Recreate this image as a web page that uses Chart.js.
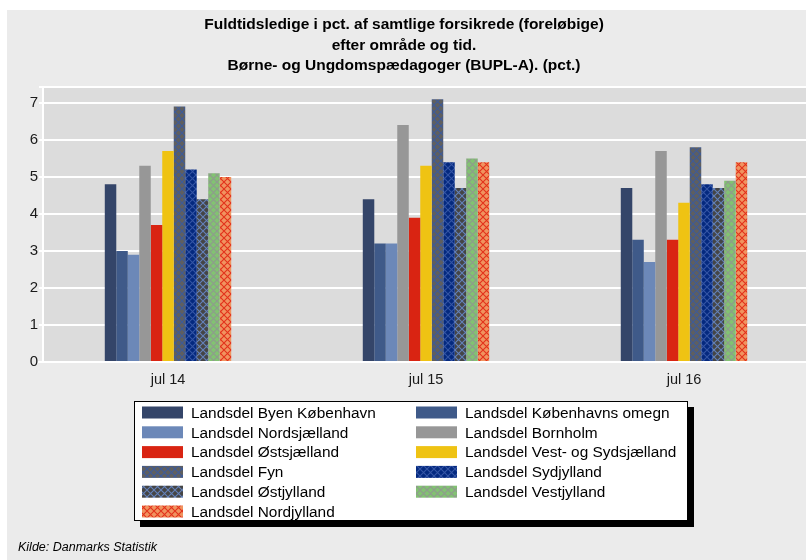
<!DOCTYPE html>
<html>
<head>
<meta charset="utf-8">
<script src="https://cdn.jsdelivr.net/npm/chart.js@4/dist/chart.umd.min.js"></script>
<style>
html,body{margin:0;padding:0;background:#fff;overflow:hidden;width:806px;height:560px;}
#wrap{width:830px;height:560px;}
</style>
</head>
<body>
<div id="wrap"><canvas id="c" width="830" height="560"></canvas></div>
<script>
const categories = ['jul 14', 'jul 15', 'jul 16'];
const titleLines = [
  'Fuldtidsledige i pct. af samtlige forsikrede (foreløbige)',
  'efter område og tid.',
  'Børne- og Ungdomspædagoger (BUPL-A). (pct.)'
];
const sourceText = 'Kilde: Danmarks Statistik';
const seriesNames = [
  'Landsdel Byen København', 'Landsdel Københavns omegn',
  'Landsdel Nordsjælland', 'Landsdel Bornholm',
  'Landsdel Østsjælland', 'Landsdel Vest- og Sydsjælland',
  'Landsdel Fyn', 'Landsdel Sydjylland',
  'Landsdel Østjylland', 'Landsdel Vestjylland',
  'Landsdel Nordjylland'
];
const byenKobenhavn   = [4.8, 4.4, 4.7];
const kobenhavnsOmegn = [3.0, 3.2, 3.3];
const nordsjaelland   = [2.9, 3.2, 2.7];
const bornholm        = [5.3, 6.4, 5.7];
const ostsjaelland    = [3.7, 3.9, 3.3];
const vestSydsjaelland= [5.7, 5.3, 4.3];
const fyn             = [6.9, 7.1, 5.8];
const sydjylland      = [5.2, 5.4, 4.8];
const ostjylland      = [4.4, 4.7, 4.7];
const vestjylland     = [5.1, 5.5, 4.9];
const nordjylland     = [5.0, 5.4, 5.4];
const yTicks = [0, 1, 2, 3, 4, 5, 6, 7];

const seriesValues = [byenKobenhavn, kobenhavnsOmegn, nordsjaelland, bornholm,
  ostsjaelland, vestSydsjaelland, fyn, sydjylland, ostjylland, vestjylland, nordjylland];

function hatch(bg, line) {
  const s = 7;
  const cv = document.createElement('canvas');
  cv.width = s; cv.height = s;
  const g = cv.getContext('2d');
  g.fillStyle = bg; g.fillRect(0, 0, s, s);
  g.strokeStyle = line; g.lineWidth = 1.1;
  g.beginPath();
  g.moveTo(0, 0); g.lineTo(s, s);
  g.moveTo(s, 0); g.lineTo(0, s);
  g.stroke();
  return document.getElementById('c').getContext('2d').createPattern(cv, 'repeat');
}

const fills = [
  '#344569', '#3f5a89', '#6c88b8', '#979797',
  '#d92412', '#efc313',
  hatch('#5f5f5f', '#3e5b98'),
  hatch('#04297f', '#3556a6'),
  hatch('#454545', '#6482bb'),
  hatch('#82c272', '#8f9a8e'),
  hatch('#f0935f', '#e2321c')
];

const datasets = seriesNames.map((n, i) => ({
  label: n,
  data: seriesValues[i],
  backgroundColor: fills[i],
  borderWidth: 0,
  categoryPercentage: 0.49,
  barPercentage: 1.0
}));

const FONT = '"Liberation Sans", Arial, sans-serif';
const PLOT_LEFT = 43;

const decor = {
  id: 'decor',
  beforeDraw(chart) {
    const ctx = chart.ctx, a = chart.chartArea;
    ctx.save();
    ctx.fillStyle = '#ffffff';
    ctx.fillRect(0, 0, chart.width, chart.height);
    ctx.fillStyle = '#ebebeb';
    ctx.fillRect(7, 10, chart.width, chart.height);
    ctx.fillStyle = '#dcdcdc';
    ctx.fillRect(PLOT_LEFT, a.top, a.right - PLOT_LEFT, a.bottom - a.top);
    ctx.restore();
  },
  afterDatasetsDraw(chart) {
    const ctx = chart.ctx, a = chart.chartArea;
    ctx.save();
    ctx.strokeStyle = '#ffffff';
    ctx.lineWidth = 2;
    ctx.beginPath();
    ctx.moveTo(PLOT_LEFT, a.top);
    ctx.lineTo(PLOT_LEFT, a.bottom + 1);
    ctx.stroke();
    ctx.restore();
  },
  afterDraw(chart) {
    const ctx = chart.ctx;
    ctx.save();
    // title
    ctx.fillStyle = '#000';
    ctx.font = 'bold 15.5px ' + FONT;
    ctx.textAlign = 'center';
    ctx.textBaseline = 'middle';
    titleLines.forEach((t, i) => ctx.fillText(t, 404, 25 + i * 20.5));
    // legend box
    const bx = 134, by = 401, bw = 554, bh = 120;
    ctx.fillStyle = '#000';
    ctx.fillRect(bx + 6, by + 6, bw, bh);
    ctx.fillStyle = '#fff';
    ctx.fillRect(bx, by, bw, bh);
    ctx.strokeStyle = '#000';
    ctx.lineWidth = 1;
    ctx.strokeRect(bx + 0.5, by + 0.5, bw - 1, bh - 1);
    ctx.font = '15.4px ' + FONT;
    ctx.textAlign = 'left';
    ctx.textBaseline = 'middle';
    chart.data.datasets.forEach((ds, i) => {
      const col = i % 2, row = Math.floor(i / 2);
      const sx = col === 0 ? 142 : 416;
      const y = 412.5 + row * 19.8;
      ctx.fillStyle = ds.backgroundColor;
      ctx.fillRect(sx, y - 6, 41, 12);
      ctx.fillStyle = '#000';
      ctx.fillText(ds.label, sx + 49, y + 1);
    });
    // source
    ctx.font = 'italic 12.5px ' + FONT;
    ctx.fillStyle = '#000';
    ctx.fillText(sourceText, 18, 548);
    ctx.restore();
  }
};

new Chart(document.getElementById('c'), {
  type: 'bar',
  data: { labels: categories, datasets },
  options: {
    responsive: false,
    devicePixelRatio: 1,
    animation: false,
    layout: { padding: { left: 0, top: 87, right: 17, bottom: 0 } },
    plugins: { legend: { display: false }, tooltip: { enabled: false }, title: { display: false } },
    scales: {
      x: {
        grid: { display: false },
        border: { display: true, color: '#ffffff', width: 2 },
        ticks: { color: '#1a1a1a', font: { family: FONT, size: 14.5 }, padding: 1 },
        afterFit(s) { s.height = 198; }
      },
      y: {
        min: 0, max: 7.43,
        afterBuildTicks(s) { s.ticks = yTicks.map(v => ({ value: v })).concat([{ value: 7.43 }]); },
        ticks: {
          color: '#1a1a1a', font: { family: FONT, size: 15 }, padding: 1,
          callback: v => (Number.isInteger(v) ? String(v) : '')
        },
        grid: { color: '#ffffff', lineWidth: 2, drawTicks: false },
        border: { display: false },
        afterFit(s) { s.width = 39; }
      }
    }
  },
  plugins: [decor]
});
</script>
</body>
</html>
